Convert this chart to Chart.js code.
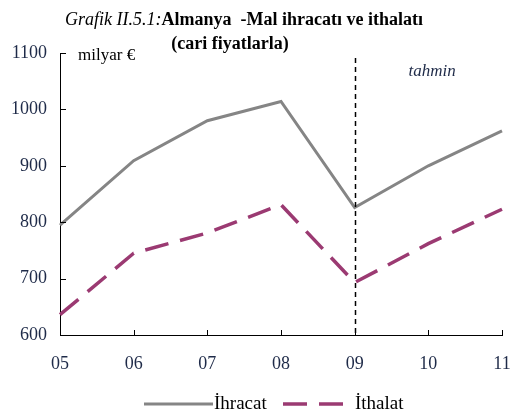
<!DOCTYPE html>
<html>
<head>
<meta charset="utf-8">
<script src="https://cdn.jsdelivr.net/npm/chart.js@4/dist/chart.umd.min.js"></script>
<style>
  html, body { margin: 0; padding: 0; background: #fff; }
  #wrap { position: relative; width: 511px; height: 414px; }
  canvas { position: absolute; left: 0; top: 0; }
  .t { position: absolute; width: 400px; text-align: center; font-family: "Liberation Serif", "Times New Roman", serif; font-size: 18px; color: #000; white-space: nowrap; font-weight: bold; line-height: 1; }
  .t i { font-weight: normal; }
</style>
</head>
<body>
<div id="wrap">
  <canvas id="c" width="511" height="414"></canvas>
  <div class="t" style="left:44px; top:10px;"><i>Grafik II.5.1:</i>Almanya &nbsp;-Mal ihracatı ve ithalatı</div>
  <div class="t" style="left:30px; top:34px;">(cari fiyatlarla)</div>
</div>
<script>
const categories = ['05', '06', '07', '08', '09', '10', '11'];
const exportValues = [795, 909, 980, 1014, 826, 900, 962];
const importValues = [636, 745, 781, 831, 693, 762, 823];
const yTickValues = [600, 700, 800, 900, 1000, 1100];
const seriesNames = ['İhracat', 'İthalat'];
const forecastStart = '09';
const unitLabel = 'milyar €';
const forecastLabel = 'tahmin';

const SERIF = '"Liberation Serif", "Times New Roman", serif';
const TICK_COLOR = '#1e2a48';

const extras = {
  id: 'extras',
  afterDraw(chart) {
    const ctx = chart.ctx;
    const x = chart.scales.x, y = chart.scales.y;
    const area = chart.chartArea;
    ctx.save();
    // inward tick marks
    ctx.strokeStyle = '#000';
    ctx.lineWidth = 1;
    categories.forEach((c, i) => {
      const px = Math.round(x.getPixelForValue(i)) + 0.5;
      ctx.beginPath(); ctx.moveTo(px, area.bottom); ctx.lineTo(px, area.bottom - 5); ctx.stroke();
    });
    yTickValues.forEach(v => {
      const py = Math.round(y.getPixelForValue(v)) + 0.5;
      ctx.beginPath(); ctx.moveTo(area.left, py); ctx.lineTo(area.left + 6, py); ctx.stroke();
    });
    // forecast divider
    const fx = Math.round(x.getPixelForValue(categories.indexOf(forecastStart))) + 0.5;
    ctx.setLineDash([5, 4]);
    ctx.lineWidth = 1.5;
    ctx.beginPath(); ctx.moveTo(fx, area.top + 5); ctx.lineTo(fx, area.bottom); ctx.stroke();
    ctx.setLineDash([]);
    // annotations
    ctx.fillStyle = '#000';
    ctx.font = '17px ' + SERIF;
    ctx.textBaseline = 'middle';
    ctx.textAlign = 'left';
    ctx.fillText(unitLabel, area.left + 18, area.top + 3);
    ctx.fillStyle = TICK_COLOR;
    ctx.font = 'italic 17px ' + SERIF;
    ctx.fillText(forecastLabel, fx + 53, area.top + 19);
    // legend
    const ly = 404;
    const ds = chart.data.datasets;
    ctx.font = '19px ' + SERIF;
    ctx.fillStyle = '#000';
    ctx.lineCap = 'butt';
    ctx.strokeStyle = ds[0].borderColor; ctx.lineWidth = ds[0].borderWidth;
    ctx.beginPath(); ctx.moveTo(144, ly); ctx.lineTo(213, ly); ctx.stroke();
    ctx.fillText(ds[0].label, 214, ly);
    ctx.strokeStyle = ds[1].borderColor; ctx.lineWidth = ds[1].borderWidth;
    ctx.setLineDash([24, 12]);
    ctx.beginPath(); ctx.moveTo(283, ly); ctx.lineTo(343, ly); ctx.stroke();
    ctx.setLineDash([]);
    ctx.fillText(ds[1].label, 355, ly);
    ctx.restore();
  }
};

new Chart(document.getElementById('c'), {
  type: 'line',
  data: {
    labels: categories,
    datasets: [
      { label: seriesNames[0], data: exportValues, borderColor: '#858585', borderWidth: 3, pointRadius: 0, tension: 0, fill: false },
      { label: seriesNames[1], data: importValues, borderColor: '#9b3a72', borderWidth: 3.5, borderDash: [24, 12], pointRadius: 0, tension: 0, fill: false }
    ]
  },
  options: {
    responsive: false,
    animation: false,
    events: [],
    layout: { padding: { top: 53, right: 9, left: 0, bottom: 0 } },
    plugins: { legend: { display: false }, tooltip: { enabled: false }, title: { display: false } },
    scales: {
      x: {
        type: 'category',
        offset: false,
        grid: { display: true, drawOnChartArea: false, drawTicks: false, color: '#000' },
        border: { display: true, color: '#000', width: 1 },
        ticks: { color: TICK_COLOR, font: { family: SERIF, size: 18 }, padding: 18, maxRotation: 0, autoSkip: false },
        afterFit(s) { s.height = 79; s.paddingLeft = 0; s.paddingRight = 0; }
      },
      y: {
        min: 600, max: 1100,
        afterBuildTicks(s) { s.ticks = yTickValues.map(v => ({ value: v })); },
        grid: { display: true, drawOnChartArea: false, drawTicks: false, color: '#000' },
        border: { display: true, color: '#000', width: 1 },
        ticks: { color: TICK_COLOR, font: { family: SERIF, size: 18 }, padding: 13, callback: v => String(v) },
        afterFit(s) { s.width = 60; s.paddingTop = 0; s.paddingBottom = 0; }
      }
    }
  },
  plugins: [extras]
});
</script>
</body>
</html>
